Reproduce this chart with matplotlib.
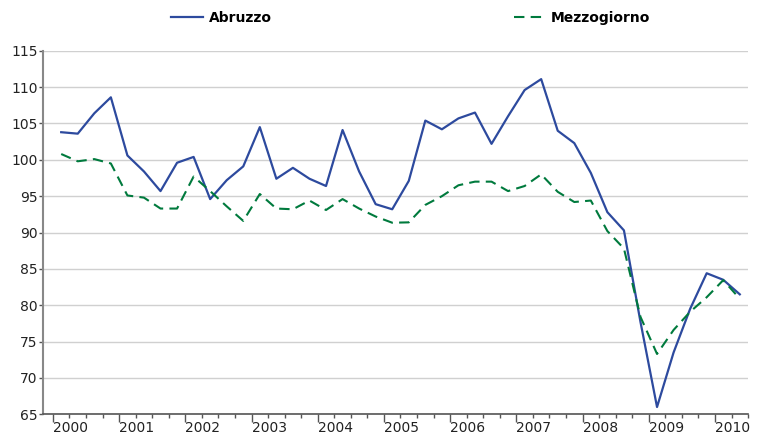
import matplotlib.pyplot as plt
from matplotlib.ticker import MultipleLocator

years = [str(y) for y in range(2000, 2011)]

# quarterly index, 2000Q1 .. 2010Q2
abruzzo = [103.8, 103.6, 106.4, 108.6, 100.6, 98.4, 95.7, 99.6, 100.4, 94.6,
           97.2, 99.1, 104.5, 97.4, 98.9, 97.4, 96.4, 104.1, 98.4, 93.9,
           93.2, 97.1, 105.4, 104.2, 105.7, 106.5, 102.2, 106.0, 109.6, 111.1,
           104.0, 102.3, 98.2, 92.8, 90.3, 77.7, 66.0, 73.5, 79.5, 84.4,
           83.5, 81.5]
mezzogiorno = [100.8, 99.8, 100.1, 99.5, 95.1, 94.8, 93.3, 93.3, 97.7, 95.7,
               93.6, 91.6, 95.3, 93.3, 93.2, 94.4, 93.1, 94.6, 93.3, 92.2,
               91.35, 91.4, 93.8, 95.0, 96.5, 97.0, 97.0, 95.7, 96.4, 98.0,
               95.6, 94.2, 94.4, 90.2, 87.8, 78.4, 73.3, 76.6, 79.1, 81.1,
               83.45, 80.9]

x = [i + 0.5 for i in range(len(abruzzo))]

fig = plt.figure(figsize=(7.61, 4.34), dpi=100)
ax = fig.add_axes([0.0565, 0.0454, 0.9265, 0.8376])

ax.plot(x, abruzzo, color='#2d4a9e', lw=1.6, label='Abruzzo')
ax.plot(x, mezzogiorno, color='#007a3d', lw=1.5, linestyle=(0, (5, 3)),
        label='Mezzogiorno')

ax.set_ylim(65, 115)
ax.set_xlim(-0.6, 42)
ax.yaxis.set_major_locator(MultipleLocator(5))
ax.yaxis.grid(True, color='#d0d0d0', lw=1)
ax.set_axisbelow(True)

ax.set_xticks([4 * i for i in range(len(years))])
ax.set_xticklabels(years)
ax.xaxis.set_minor_locator(MultipleLocator(1))
for lab in ax.get_xticklabels():
    lab.set_ha('left')
ax.tick_params(axis='x', which='major', length=6, width=1, color='#555555',
               pad=-1.5, labelsize=10, labelcolor='#222222')
ax.tick_params(axis='x', which='minor', length=3, width=1, color='#555555')
ax.tick_params(axis='y', length=3, width=1, color='#555555', pad=1,
               labelsize=10, labelcolor='#222222')

for s in ['top', 'right']:
    ax.spines[s].set_visible(False)
ax.spines['left'].set_color('#888888')
ax.spines['left'].set_linewidth(1.5)
ax.spines['bottom'].set_color('#555555')
ax.spines['bottom'].set_linewidth(1.2)

fig.legend(loc='upper center', bbox_to_anchor=(0.54, 1.003), ncol=2,
           frameon=False, columnspacing=17.4, handlelength=2.3,
           handletextpad=0.4, prop={'weight': 'bold', 'size': 10})

fig.savefig('out.png', dpi=100)
